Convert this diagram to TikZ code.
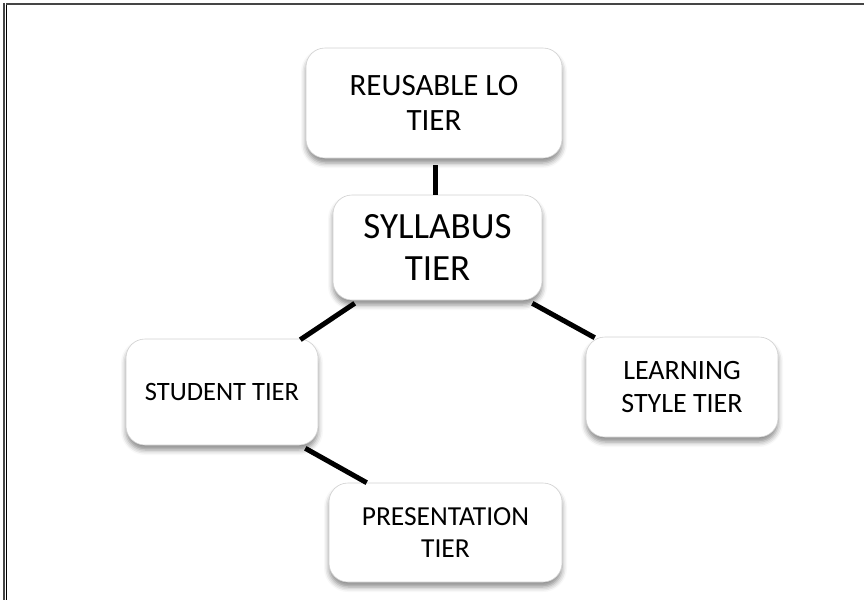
\documentclass[tikz,border=0pt]{standalone}
\usepackage{fontspec}
\setmainfont{Carlito}
\usetikzlibrary{shadows.blur}
\definecolor{frameouter}{HTML}{454545}
\tikzset{
  tierbox/.style={
    draw=black!18, line width=0.6pt, fill=white,
    rounded corners=19pt, align=center, inner sep=0pt,
    blur shadow={shadow xshift=0pt, shadow yshift=-5pt,
                 shadow blur radius=5pt, shadow opacity=45}
  },
  link/.style={line width=5pt, black}
}
\newcommand{\tierfont}[1]{\fontsize{#1}{1.15\dimexpr#1pt\relax}\selectfont}
\begin{document}
\begin{tikzpicture}[x=1pt, y=-1pt]
  \useasboundingbox (0,0) rectangle (864,600);
  % page frame: double rule on the left, single rule along the top
  \draw[line width=2.4pt, frameouter] (4,3) -- (4,600);
  \draw[line width=1pt, black] (6.8,5) -- (6.8,600);
  \draw[line width=2.4pt, frameouter] (6.3,4.2) -- (864,4.2);

  % tiers
  \node[tierbox, minimum width=256pt, minimum height=110pt, font=\tierfont{31}]
    (reuse) at (434,103) {REUSABLE LO\\TIER};
  \node[tierbox, minimum width=209pt, minimum height=105pt, font=\tierfont{37}]
    (syl) at (437.5,247.5) {SYLLABUS\\TIER};
  \node[tierbox, minimum width=192pt, minimum height=106pt, font=\tierfont{26.5}]
    (stu) at (222,392) {STUDENT TIER};
  \node[tierbox, minimum width=192pt, minimum height=100pt, font=\tierfont{28}]
    (learn) at (682,387) {LEARNING\\STYLE TIER};
  \node[tierbox, minimum width=233pt, minimum height=99pt, font=\tierfont{27.5}]
    (pres) at (445.5,532.5) {PRESENTATION\\TIER};

  % links between tiers
  \draw[link] ([shift={(1,7)}]reuse.south) -- ([shift={(1,0)}]reuse.south |- syl.north);
  \draw[link] ([shift={(22,3)}]syl.south west) -- ([shift={(-18,1)}]stu.north east);
  \draw[link] ([shift={(-10,3)}]syl.south east) -- ([shift={(9,1)}]learn.north west);
  \draw[link] ([shift={(-13,3)}]stu.south east) -- ([shift={(38,0)}]pres.north west);
\end{tikzpicture}
\end{document}
